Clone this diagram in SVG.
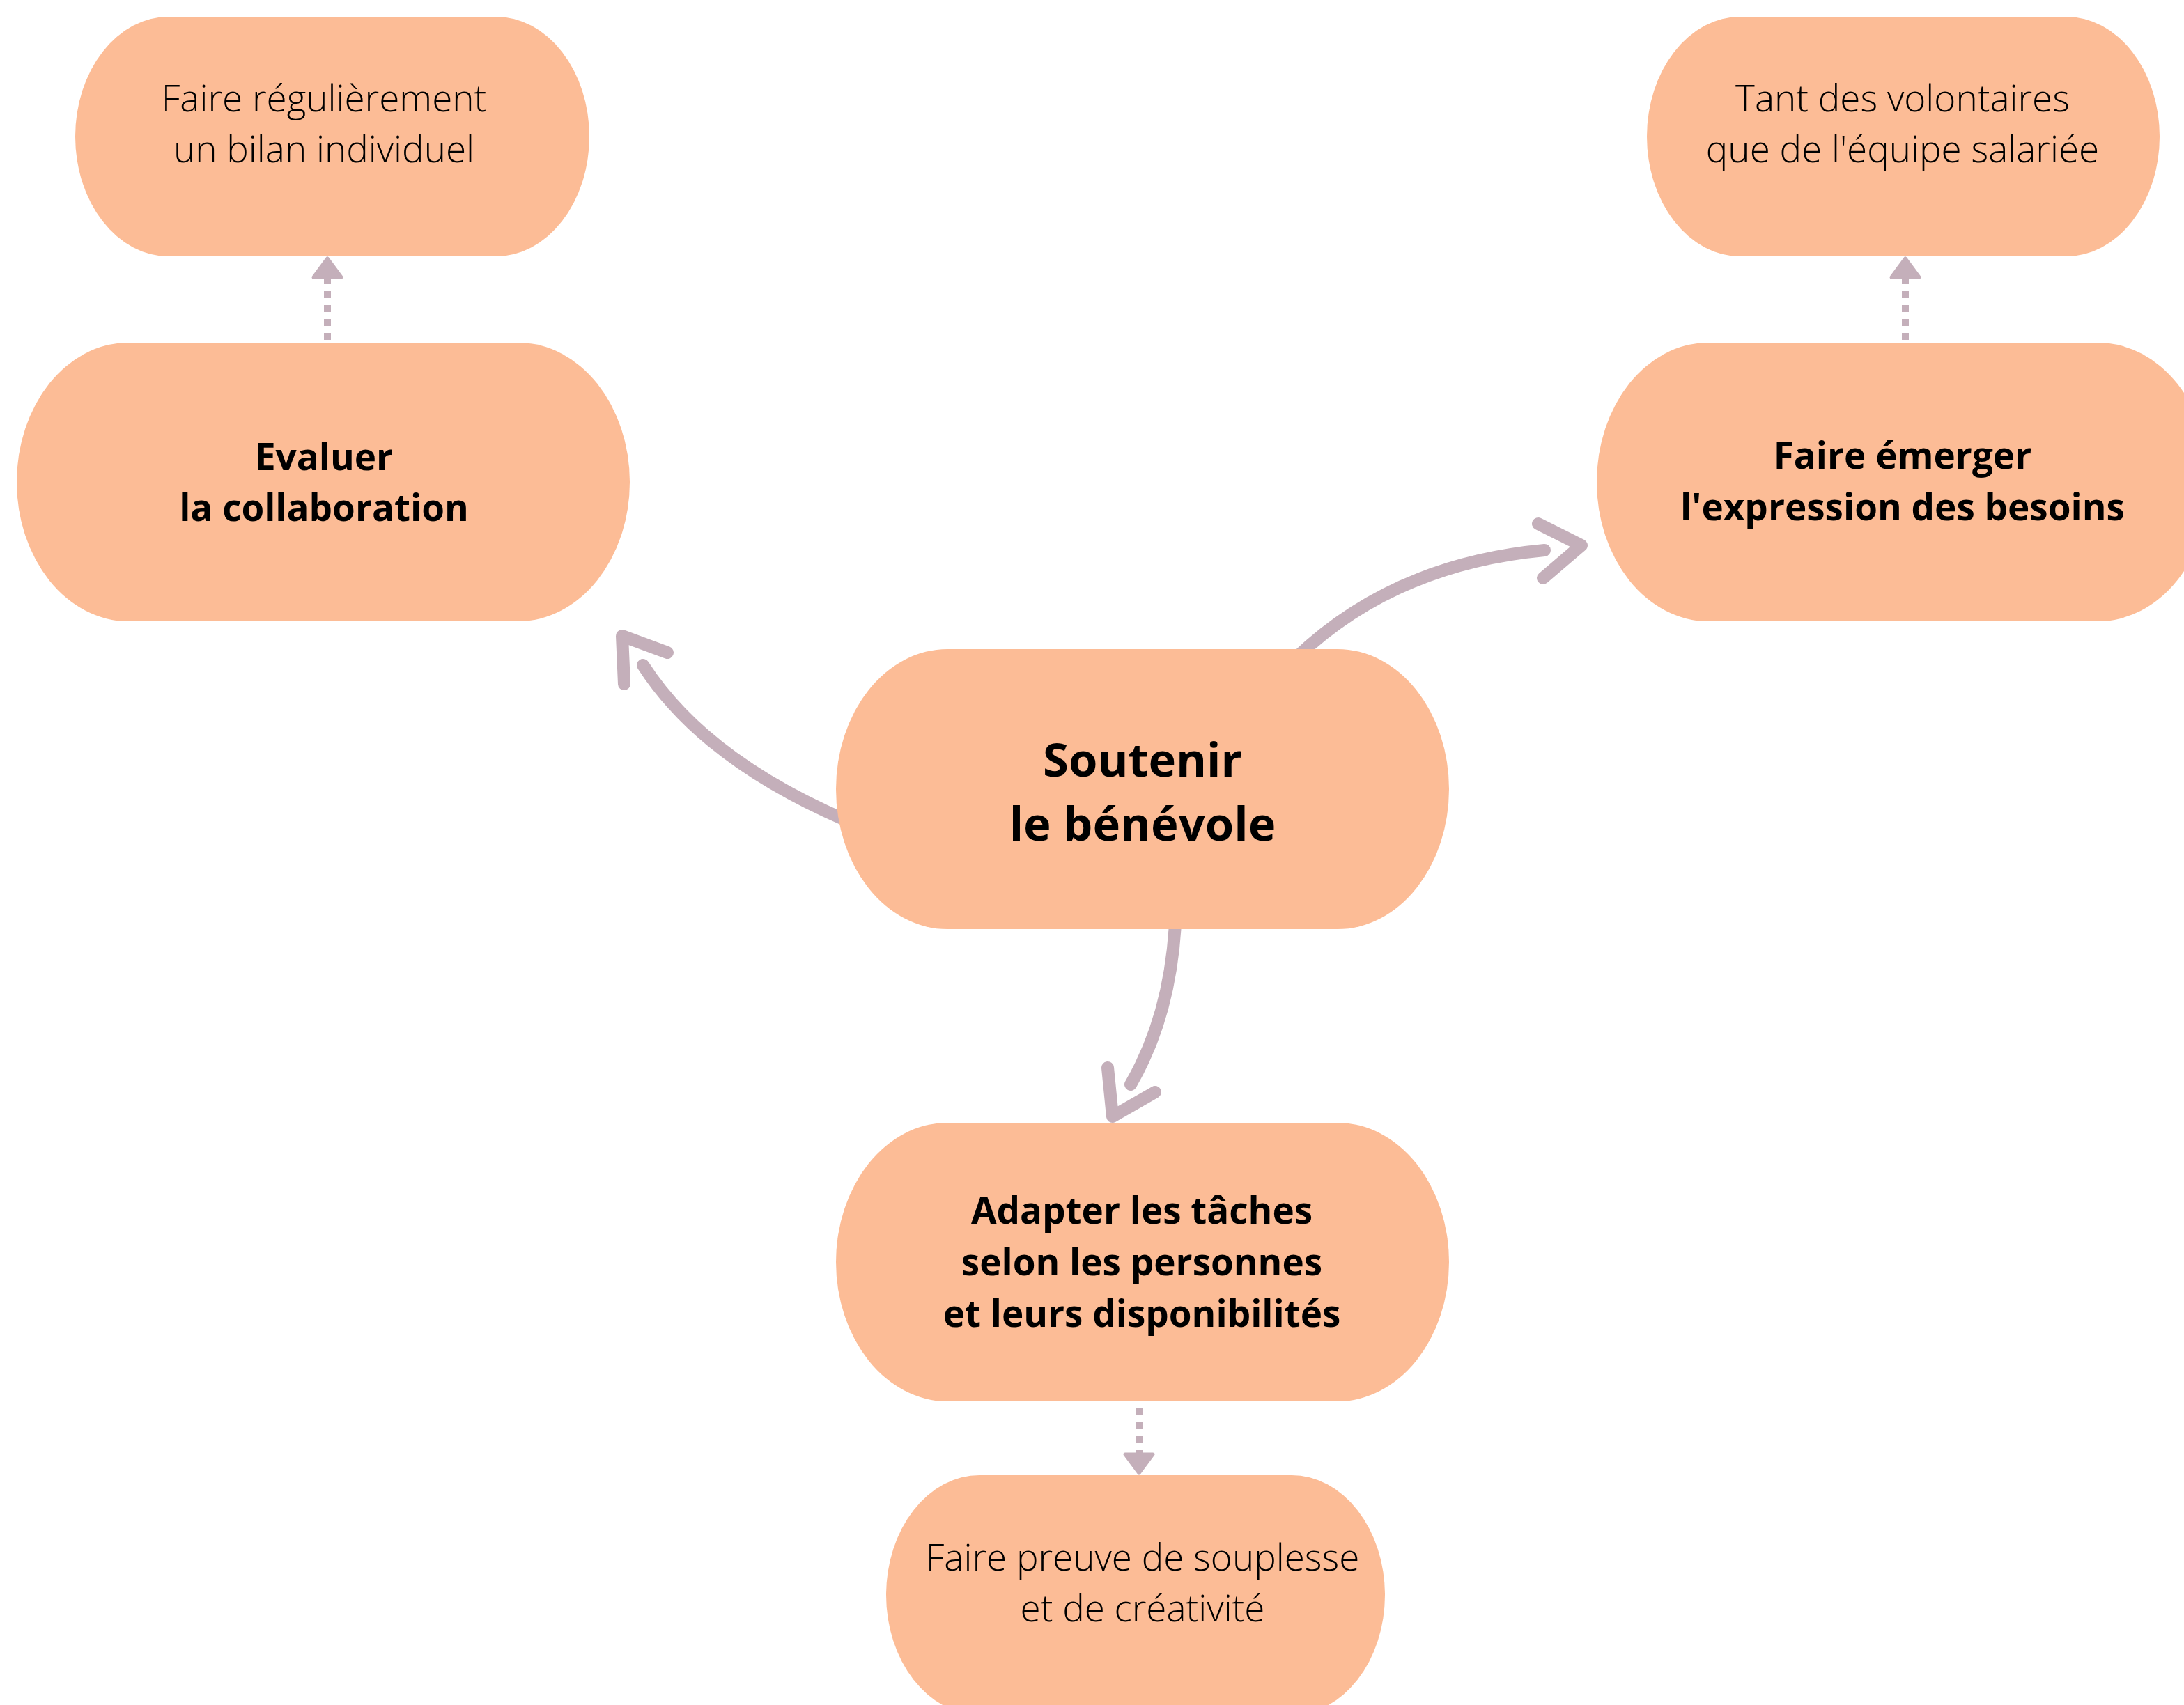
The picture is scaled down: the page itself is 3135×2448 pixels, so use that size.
<svg xmlns="http://www.w3.org/2000/svg" width="3135" height="2448" viewBox="0 0 3135 2448">
  <style>
    .box { fill: #FCBC96; }
    .bold { font-family: "Open Sans", "Liberation Sans", sans-serif; font-weight: 700; fill: #000; text-anchor: middle; }
    .light { font-family: "Open Sans", "Liberation Sans", sans-serif; font-weight: 300; fill: #000; text-anchor: middle; font-size: 53px; }
    .curve { fill: none; stroke: #C4AFBA; stroke-width: 18; stroke-linecap: round; stroke-linejoin: round; }
    .dots { fill: none; stroke: #C4AFBA; stroke-width: 10; stroke-dasharray: 10 10; }
    .tri { fill: #C4AFBA; stroke: #C4AFBA; stroke-width: 5; stroke-linejoin: round; }
  </style>
  <rect width="3135" height="2448" fill="#FFFFFF"/>
  <g id="connectors">
    <path class="curve" d="M1215,1178 Q1010,1090 923,955"/>
    <path class="curve" d="M896,982 L893,913 L958,937"/>
    <path class="curve" d="M1860,945 Q2000,810 2217,790"/>
    <path class="curve" d="M2208,752 L2270,783 L2215,830"/>
    <path class="curve" d="M1688,1300 Q1685,1450 1623,1557"/>
    <path class="curve" d="M1590,1533 L1597,1603 L1658,1568"/>
    <line class="dots" x1="470" y1="488" x2="470" y2="398"/>
    <path class="tri" d="M450,398 L470,371 L490,398 Z"/>
    <line class="dots" x1="2735" y1="488" x2="2735" y2="398"/>
    <path class="tri" d="M2715,398 L2735,371 L2755,398 Z"/>
    <line class="dots" x1="1635" y1="2022" x2="1635" y2="2090"/>
    <path class="tri" d="M1615,2088 L1635,2115 L1655,2088 Z"/>
  </g>
  <g id="node-bilan">
    <rect class="box" x="108" y="24" width="738" height="344" rx="134" ry="172"/>
    <text class="light" x="465" y="160">Faire régulièrement</text>
    <text class="light" x="465" y="233">un bilan individuel</text>
  </g>
  <g id="node-evaluer">
    <rect class="box" x="24" y="492" width="880" height="400" rx="160" ry="200"/>
    <text class="bold" font-size="53" x="465" y="675">Evaluer</text>
    <text class="bold" font-size="53" x="465" y="748">la collaboration</text>
  </g>
  <g id="node-volontaires">
    <rect class="box" x="2364" y="24" width="736" height="344" rx="134" ry="172"/>
    <text class="light" x="2731" y="160">Tant des volontaires</text>
    <text class="light" x="2731" y="233">que de l'équipe salariée</text>
  </g>
  <g id="node-emerger">
    <rect class="box" x="2292" y="492" width="880" height="400" rx="160" ry="200"/>
    <text class="bold" font-size="53" x="2731" y="673">Faire émerger</text>
    <text class="bold" font-size="53" x="2731" y="747">l'expression des besoins</text>
  </g>
  <g id="node-soutenir">
    <rect class="box" x="1200" y="932" width="880" height="402" rx="160" ry="201"/>
    <text class="bold" font-size="67" x="1640" y="1115">Soutenir</text>
    <text class="bold" font-size="67" x="1640" y="1207">le bénévole</text>
  </g>
  <g id="node-adapter">
    <rect class="box" x="1200" y="1612" width="880" height="400" rx="160" ry="200"/>
    <text class="bold" font-size="53" x="1639" y="1757">Adapter les tâches</text>
    <text class="bold" font-size="53" x="1639" y="1831">selon les personnes</text>
    <text class="bold" font-size="53" x="1639" y="1905">et leurs disponibilités</text>
  </g>
  <g id="node-souplesse">
    <rect class="box" x="1272" y="2118" width="716" height="344" rx="134" ry="172"/>
    <text class="light" x="1640" y="2255">Faire preuve de souplesse</text>
    <text class="light" x="1640" y="2328">et de créativité</text>
  </g>
</svg>
